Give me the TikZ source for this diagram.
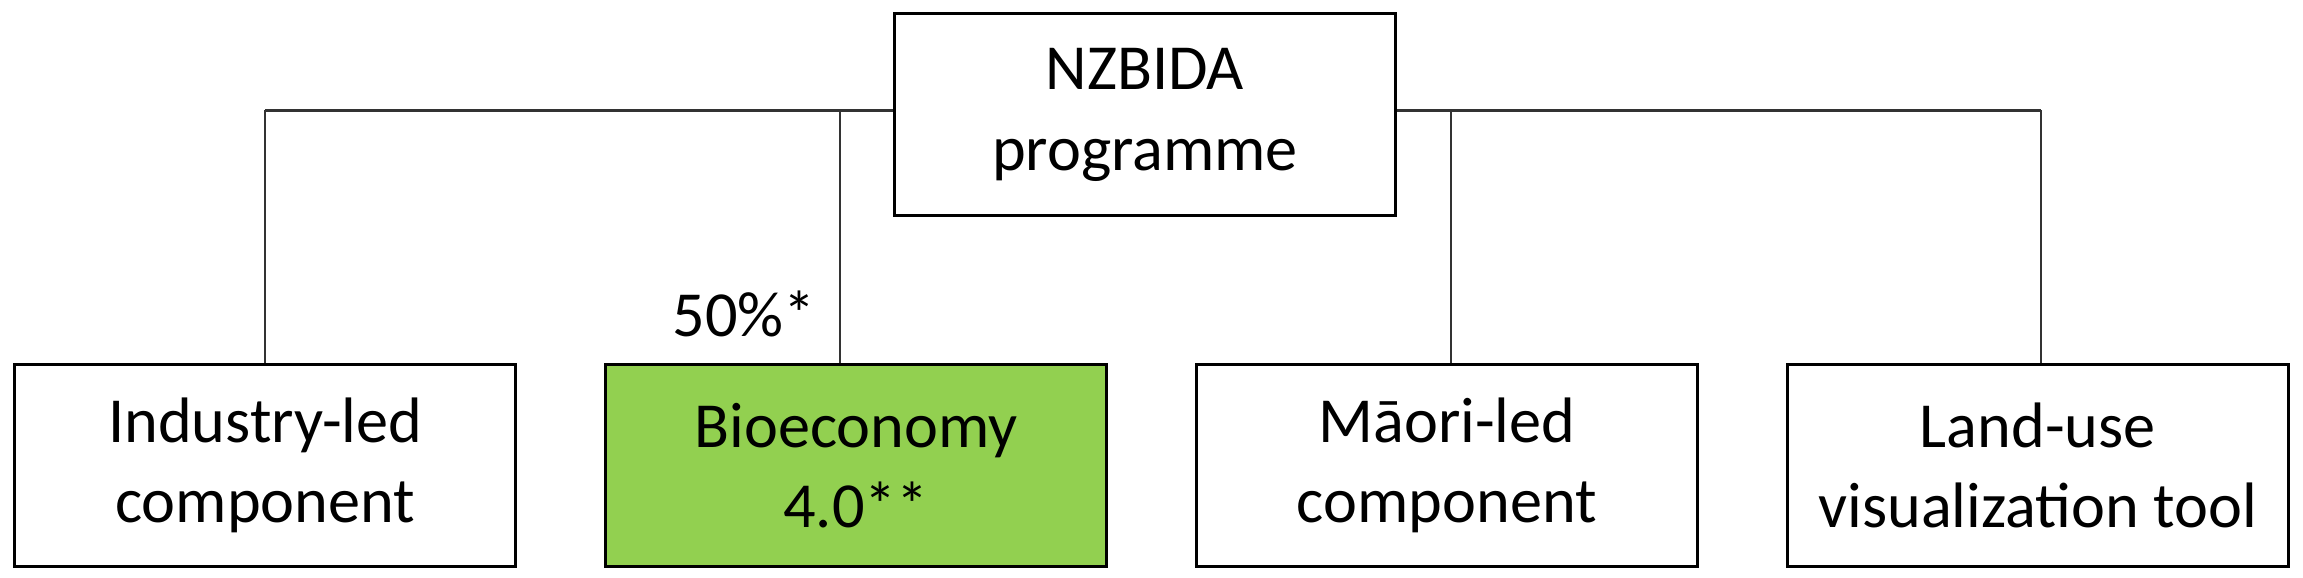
\documentclass[tikz,border=0pt]{standalone}
\usepackage{fontspec}
\setmainfont{Carlito}
\begin{document}
\begin{tikzpicture}[x=0.01cm,y=-0.01cm,
  box/.style={draw=black,line width=0.6pt,minimum width=3.4cm,minimum height=1.37cm,align=center,font=\fontsize{12.4}{15.5}\selectfont,inner sep=0pt},
  conn/.style={draw=black!80,line width=0.4pt}]
\useasboundingbox (0,0) rectangle (1563,392);
\node[box,fill=white] (top) at (777,78) {NZBIDA\\programme};
\node[box] (b1) at (180,316) {Industry-led\\component};
\node[box,fill={rgb,255:red,146;green,208;blue,80}] (b2) at (581,316) {Bioeconomy\\4.0**};
\node[box] (b3) at (982,316) {Māori-led\\component};
\node[box] (b4) at (1383,316) {Land-use\\visualization tool};
\coordinate (h1) at (180,75);
\coordinate (h4) at (1385,75);
\draw[conn] (h1) -- (top.west |- h1);
\draw[conn] (top.east |- h4) -- (h4);
\draw[conn] (h1) -- (b1.north);
\draw[conn] (h4) -- (b4.north -| h4);
\draw[conn] (570,75) -- (b2.north -| 570,0);
\draw[conn] (985,75) -- (b3.north -| 985,0);
\node[font=\fontsize{12.4}{15.5}\selectfont] (lab) at (505,213) {50\%*};
\end{tikzpicture}
\end{document}
